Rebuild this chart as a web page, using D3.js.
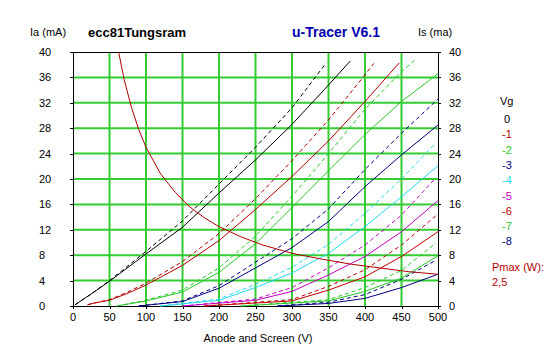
<!DOCTYPE html>
<html><head><meta charset="utf-8">
<script src="https://cdn.jsdelivr.net/npm/d3@7"></script>
<style>body{margin:0;background:#fff}svg{display:block}text{font-family:"Liberation Sans",Arial,sans-serif}</style>
</head><body>
<svg id="c" width="547" height="357"></svg>
<script>
// Data
const xTicks = [0,50,100,150,200,250,300,350,400,450,500];
const yTicks = [0,4,8,12,16,20,24,28,32,36,40];
const gridVolts = [0,50,100,150,200,250,300,350,400,450,500];
const vgLabels = ["0","-1","-2","-3","-4","-5","-6","-7","-8"];
const vgColors = ["#000000","#b00000","#22c822","#000080","#22d8f0","#c000c0","#c00000","#22c822","#000080"];

// Anode current (solid) per Vg: [V, mA]
const iaVg0 = [[3,0.2],[25,1.9],[50,3.9],[100,8.2],[150,12.4],[200,17.8],[250,23.0],[300,28.6],[350,34.8],[380,38.6]];
const iaVg1 = [[20,0.2],[30,0.5],[50,0.9],[75,2.0],[100,3.3],[150,6.4],[200,10.3],[250,15.2],[300,20.4],[350,26.0],[400,32.2],[447,38.3]];
const iaVg2 = [[60,0],[100,0.8],[150,2.2],[200,5.3],[250,9.8],[300,15.5],[350,21.3],[400,27.0],[450,32.2],[500,36.6]];
const iaVg3 = [[90,0],[150,0.7],[200,2.8],[250,6.0],[300,9.2],[350,13.3],[400,18.8],[450,23.8],[500,28.5]];
const iaVg4 = [[120,0],[200,0.9],[250,2.9],[300,5.2],[350,8.3],[400,12.5],[450,17.2],[500,22.1]];
const iaVg5 = [[150,0],[250,0.9],[300,2.3],[350,4.9],[400,7.8],[450,11.7],[500,16.6]];
const iaVg6 = [[180,0],[300,0.8],[350,2.5],[400,4.6],[450,7.8],[500,11.7]];
const iaVg7 = [[230,0],[350,0.8],[400,2.3],[450,4.4],[500,7.9]];
const iaVg8 = [[280,0],[350,0.4],[400,1.2],[450,2.9],[500,5.0]];

// Screen current (dashed) per Vg: [V, mA]
const isVg0 = [[3,0.2],[25,1.9],[50,4.0],[100,8.6],[150,13.4],[200,19.2],[250,25.0],[300,31.2],[347,38.3]];
const isVg1 = [[20,0.2],[50,1.0],[75,2.2],[100,3.6],[150,7.0],[200,11.4],[250,16.9],[300,22.9],[350,29.3],[400,36.4],[412,38.2]];
const isVg2 = [[60,0],[100,0.9],[150,2.5],[200,6.0],[250,11.0],[300,17.3],[350,24.0],[400,31.0],[450,36.9],[468,38.7]];
const isVg3 = [[90,0],[150,0.8],[200,3.2],[250,6.9],[300,10.6],[350,15.3],[400,21.5],[450,27.2],[500,32.6]];
const isVg4 = [[120,0],[200,1.1],[250,3.4],[300,6.1],[350,9.7],[400,14.6],[450,20.0],[497,25.7]];
const isVg5 = [[150,0],[250,1.1],[300,2.9],[350,6.0],[400,9.6],[450,14.3],[497,20.2]];
const isVg6 = [[180,0],[300,1.0],[350,3.1],[400,5.7],[450,9.6],[497,14.2]];
const isVg7 = [[230,0],[350,1.0],[400,2.9],[450,5.6],[497,9.9]];
const isVg8 = [[280,0],[350,0.6],[400,1.8],[450,4.2],[497,7.2]];

// Pmax 2.5 W hyperbola points [V, mA]
const pmaxCurve = [[62.5,40],[70,35.7],[80,31.3],[90,27.8],[100,25],[120,20.8],[140,17.9],[160,15.6],[180,13.9],[200,12.5],[230,10.9],[260,9.6],[300,8.3],[340,7.4],[380,6.6],[420,6.0],[460,5.4],[500,5.0]];

const iaSeries = [iaVg0,iaVg1,iaVg2,iaVg3,iaVg4,iaVg5,iaVg6,iaVg7,iaVg8];
const isSeries = [isVg0,isVg1,isVg2,isVg3,isVg4,isVg5,isVg6,isVg7,isVg8];

const svg = d3.select("#c");
const L = 73, R = 438, T = 52, B = 306;
const x = d3.scaleLinear().domain([0,500]).range([L,R]);
const y = d3.scaleLinear().domain([0,40]).range([B,T]);
const grid = "#33cc33";

// grid
svg.append("g").selectAll("line").data(gridVolts.slice(1,-1)).join("line")
  .attr("x1",d=>x(d)).attr("x2",d=>x(d)).attr("y1",T).attr("y2",B)
  .attr("stroke",grid).attr("stroke-width",2);
svg.append("g").selectAll("line").data(yTicks.slice(1,-1)).join("line")
  .attr("x1",L).attr("x2",R).attr("y1",d=>y(d)).attr("y2",d=>y(d))
  .attr("stroke",grid).attr("stroke-width",2);

// axes
const fs = "11px";
const axL = svg.append("g").attr("transform",`translate(${L},0)`).call(d3.axisLeft(y).tickValues(yTicks).tickSize(3).tickFormat(()=>""));
const axR = svg.append("g").attr("transform",`translate(${R},0)`).call(d3.axisRight(y).tickValues(yTicks).tickSize(3).tickFormat(()=>""));
const axB = svg.append("g").attr("transform",`translate(0,${B})`).call(d3.axisBottom(x).tickValues(xTicks).tickSize(3).tickFormat(()=>""));
const axT = svg.append("g").attr("transform",`translate(0,${T})`).call(d3.axisTop(x).tickValues([]).tickSize(0));
[axL,axR,axB,axT].forEach(a=>{a.selectAll("path,line").attr("stroke","#000").attr("shape-rendering","crispEdges");});

svg.append("g").selectAll("text").data(yTicks).join("text")
  .attr("x",39).attr("y",d=>y(d)+4).text(d=>d).attr("font-size",fs);
svg.append("g").selectAll("text").data(yTicks).join("text")
  .attr("x",449).attr("y",d=>y(d)+4).text(d=>d).attr("font-size",fs);
svg.append("g").selectAll("text").data(xTicks).join("text")
  .attr("x",d=>x(d)).attr("y",321).attr("text-anchor","middle").text(d=>d).attr("font-size",fs);

// curves
const line = d3.line().x(d=>x(d[0])).y(d=>y(d[1]));
const cg = svg.append("g");
isSeries.forEach((s,i)=>{
  cg.append("path").attr("d",line(s)).attr("fill","none").attr("stroke",vgColors[i])
    .attr("stroke-width",1).attr("stroke-dasharray","4,3");
});
iaSeries.forEach((s,i)=>{
  cg.append("path").attr("d",line(s)).attr("fill","none").attr("stroke",vgColors[i]).attr("stroke-width",1);
});
cg.append("path").attr("d",line(pmaxCurve)).attr("fill","none").attr("stroke","#b00000").attr("stroke-width",1);

// titles
svg.append("text").attr("x",30).attr("y",36).attr("font-size",fs).text("Ia (mA)");
svg.append("text").attr("x",418).attr("y",36).attr("font-size",fs).text("Is (ma)");
svg.append("text").attr("x",88).attr("y",37).attr("font-size","13px").attr("font-weight","bold")
  .attr("font-family","DejaVu Sans").text("ecc81Tungsram");
svg.append("text").attr("x",292).attr("y",37).attr("font-size","14px").attr("font-weight","bold")
  .attr("font-family","DejaVu Sans").attr("fill","#0000b0").text("u-Tracer V6.1");
svg.append("text").attr("x",258).attr("y",342).attr("text-anchor","middle").attr("font-size",fs).text("Anode and Screen (V)");

// legend
svg.append("text").attr("x",500).attr("y",105).attr("font-size",fs).text("Vg");
svg.append("g").selectAll("text").data(vgLabels).join("text")
  .attr("x",507).attr("y",(d,i)=>123+i*15.3).attr("text-anchor","middle")
  .attr("font-size",fs).attr("fill",(d,i)=>vgColors[i]).text(d=>d);
svg.append("text").attr("x",492).attr("y",271).attr("font-size",fs).attr("fill","#b00000").text("Pmax (W):");
svg.append("text").attr("x",492).attr("y",286).attr("font-size",fs).attr("fill","#b00000").text("2,5");
</script>
</body></html>
